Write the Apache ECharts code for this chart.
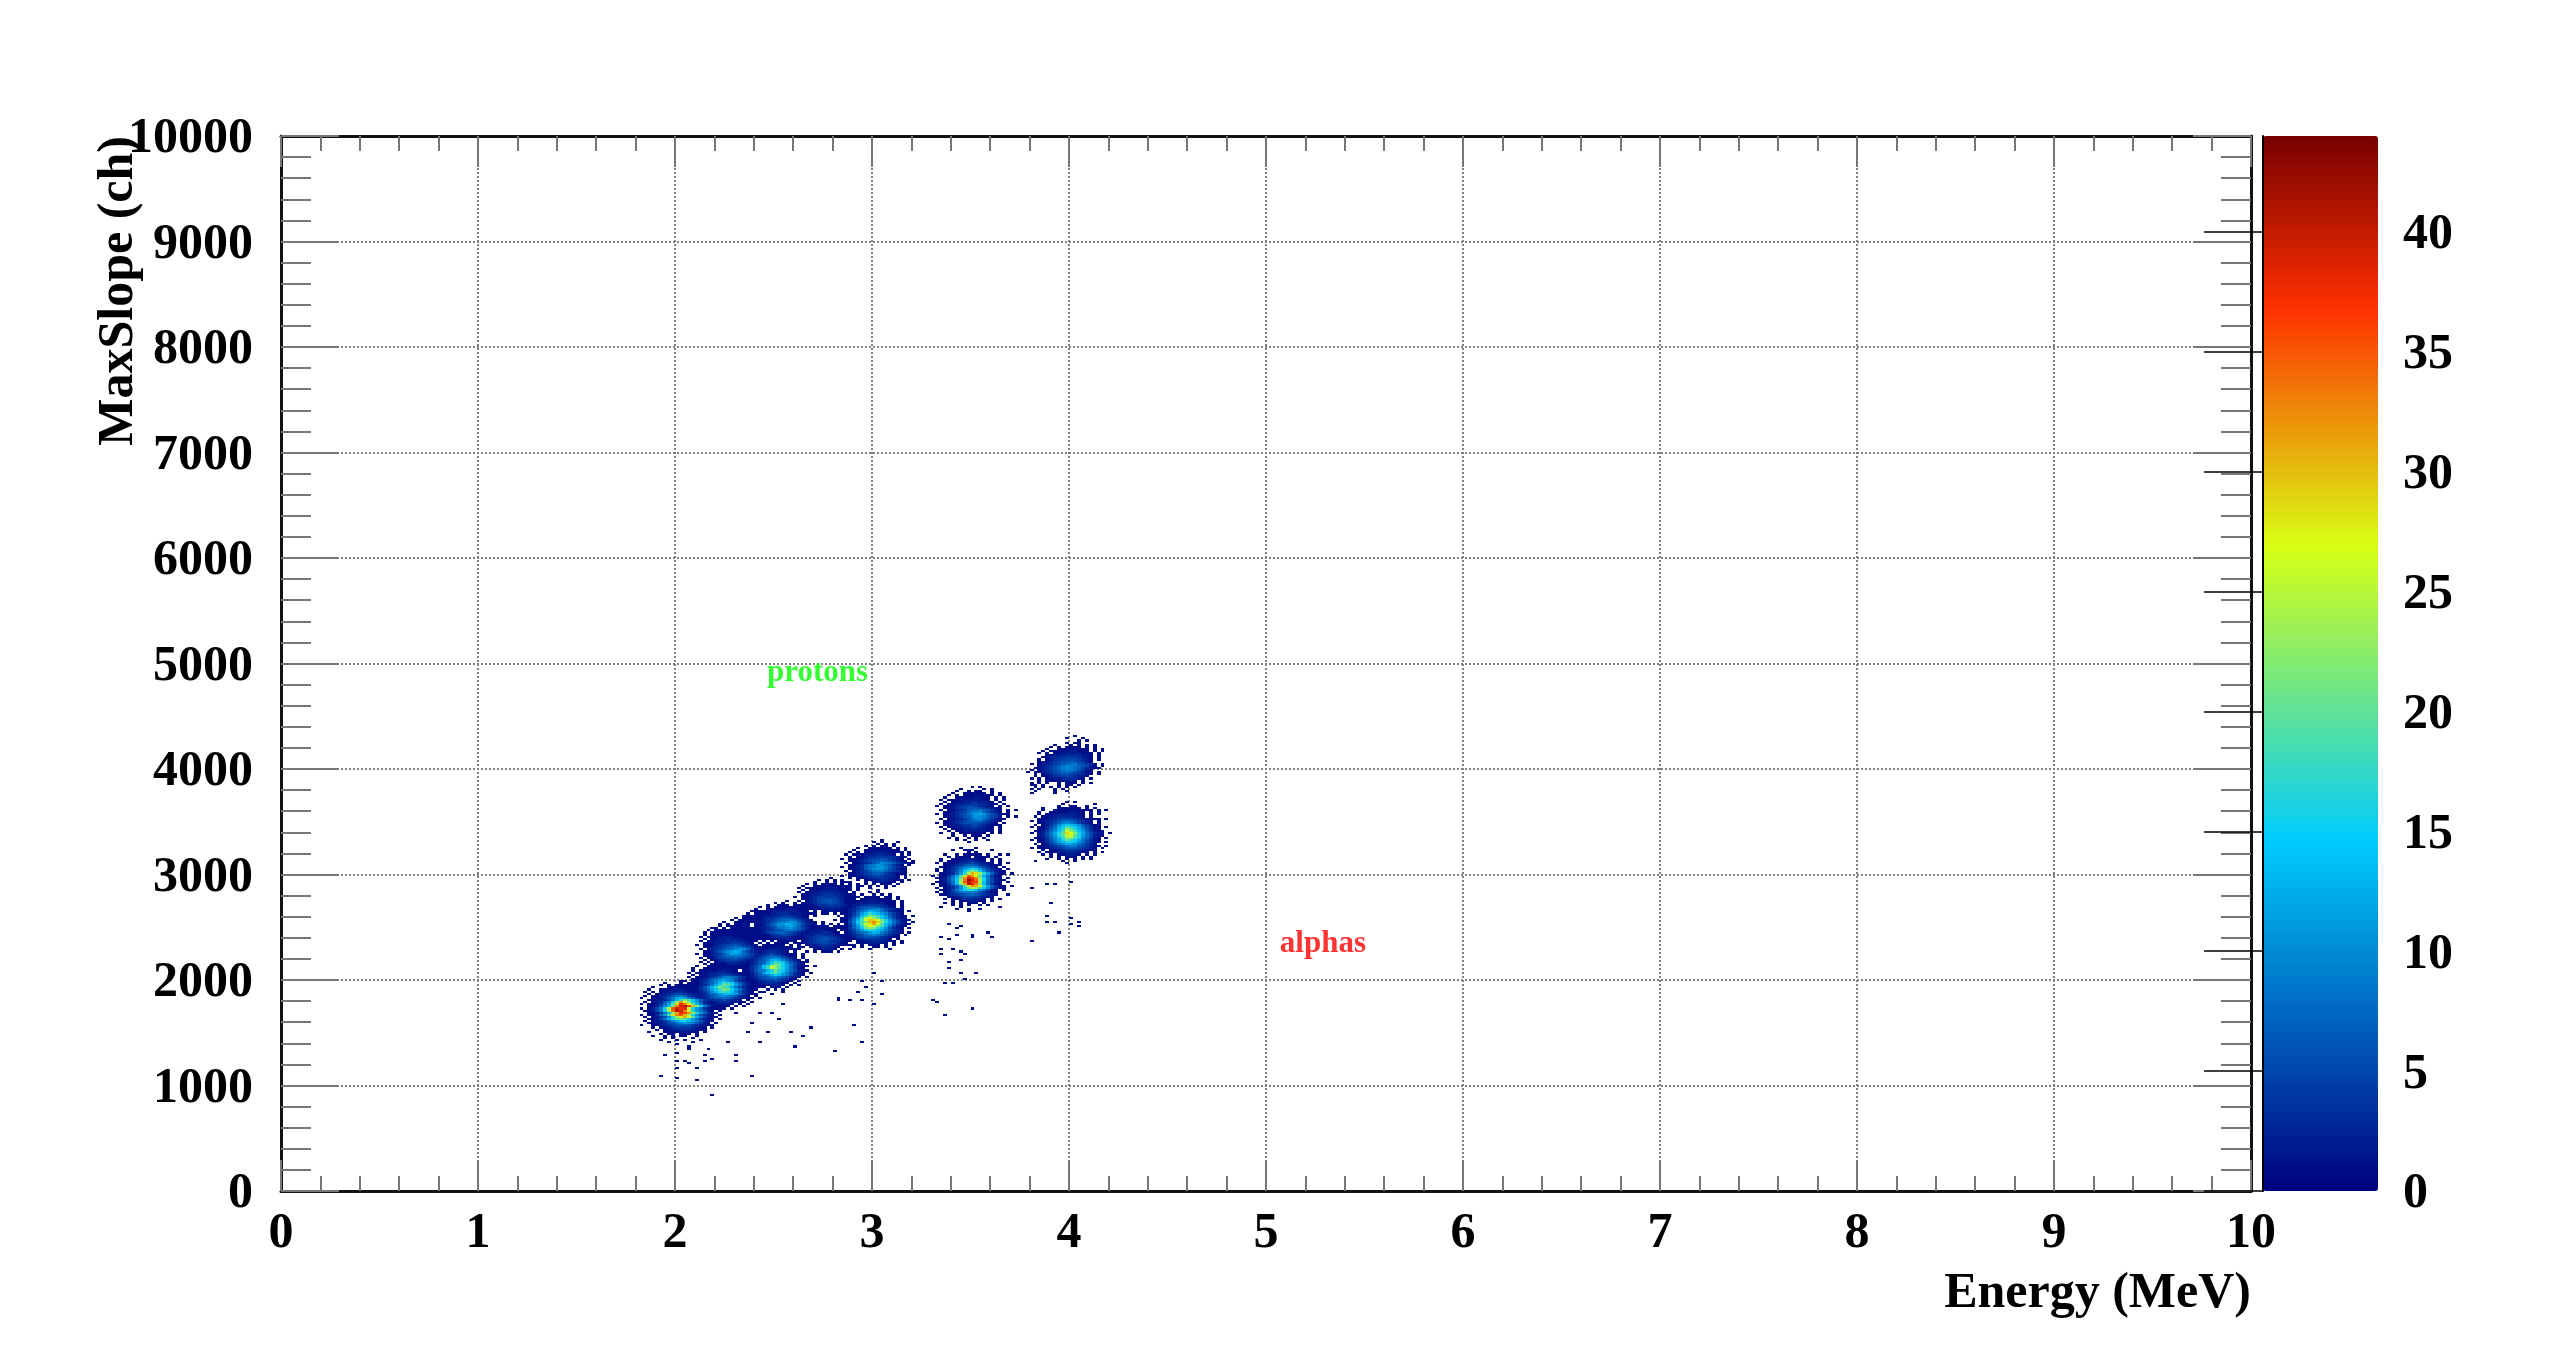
<!DOCTYPE html>
<html><head><meta charset="utf-8">
<style>html,body{margin:0;padding:0;background:#fff}#c{width:2558px;height:1362px}</style>
<script src="https://cdn.jsdelivr.net/npm/echarts@6/dist/echarts.min.js"></script>
</head><body><div id="c"></div>
<script>
// Histogram bin widths: 0.02 MeV, 20 ch
const binE = 0.02, binS = 20;
const xRange = [0, 10], yRange = [0, 10000], zRange = [0, 44];
const zTicks = [0, 5, 10, 15, 20, 25, 30, 35, 40];
// one character per bin: . = empty, 1-9, a=10 ... z=35, A=36 ... G=42; rows run top to bottom
const countChars = '.123456789abcdefghijklmnopqrstuvwxyzABCDEFGH';
const blobA = [
"...........1..1.........",
".......1...1.1..1.......",
"......1.1.11111.1.......",
"....1...1111111.1.1.....",
"...1..111122111.11......",
"..1.1.1122332211.1......",
"...1.12234554322.1.1....",
"..1.1123468974321.1.....",
".1..112469cdb96421.1.1..",
"...1122358dhmjfa74211...",
"..1.12369gnwrlfb6321.1..",
".1.1124 8cjtBxrkd8421...",
"...11259elxDFAumf9521.1.",
".1.1258gozEBCqgb84211...",
"..11259foyFDxshb9521.1..",
"...11248dmvCAwnhb7421...",
".1.1137bjsxzuofa6321.1..",
"..1.1236ahnsvqkc84211...",
"...11258dhkljfb84211.1..",
"..1.12246acfgdb96311....",
"...11223568aba96421.1...",
".1..1123456776432211....",
"....1.112344443211.1....",
".....1.11223322111......",
"...1...111122211.1......",
"......1.11.111.1........",
"....1..1.1.11..1........",
".......1.1....1.........",
"......1...1.1...1.......",
"........1.....1........."];
const blobB = [
"..........1.1...........",
"......1...1..1.1........",
"....1..1.111111.1.......",
"...1..1111111111.1......",
"...1.1111122211.1.......",
"..1.111223332211.1..1...",
"...1.11233455432111.....",
"..1.11123468987431.1....",
"...11234689ba964211.1...",
".1.1123579cdb96321.1....",
"...11246 7aeihfa74211...",
"..1.12358cgkjgb84211....",
"...11369dhmjhc85311.1...",
".1.11358bfilkfb84211....",
"...11246adgihea6321.1...",
"..1.123578bdecb74211....",
"...11234689a986321.1....",
".1..112456787643211.1...",
"...1.11234454321.1......",
".....1.1123332211.1.....",
"...1...1122221.1.1......",
"......1.1.111.1.1.......",
"....1...1.11.1..........",
".......1..1.............",
".........1....1........."];
const blobC = [
"..........1.............",
".......1.1..1.1.........",
"....1.1..11111.1.1......",
"...1.1.111111111.1......",
"...1..11112221111.......",
"..1.11112333221.1.......",
"...1.112345432111.1.....",
"..1.1123467764211.1.....",
"...11234689a97531.1.....",
".1.1123579dec96421.1....",
"...11246 7beigea64211...",
"..1.12368cgljgb8521.....",
"...11358ehpnjfc84211.1..",
"..1.1358eiqmkgc7411.....",
"...113689dglhfb85211....",
".1.11247bfhkgc96321.1...",
"...112468 9cfeb96321....",
"..1.1235679a875321.1....",
"...11124566754311.......",
".....11234454321.1......",
"...1.1122333211.1.......",
".....1.1112221.1.1......",
"....1.1.1.111.1.........",
"......1..1.1.1..........",
"........1....1..........",
"......1...1............."];
const blobD = [
"..........1.1...........",
"......1...1..1..........",
"....1..1.11111.1.1......",
"...1..1111111.11........",
"...1.1111111111.1.......",
"..1.11122221111.1.......",
"...1.1122322211.1.......",
"..1.1122233322111.......",
"...1112233444321.1......",
".1.1112345565432 1.1....",
"...1123456787653 1......",
"..1.12346789ba74211.....",
"...112468abdb75321.1....",
".1.1123469cba86432 1....",
"...11235 6889875421.....",
"..1.113456676543 1......",
"...1.113445543211.......",
"..1.1.12233322 1.1......",
"...1.11112222111........",
".....1.1.11111.1.1......",
"...1...1.1.1.1.1........",
"......1....1............",
"........1.1............."];
const blobE = [
"...........1............",
"........1.1..1.1........",
"......1..111.1.1........",
"....1.1.1111111.1.......",
"...1..1111121111.1......",
"..1.11112222221.1.1.....",
"...1.1122333222111......",
".1.1112233444321 1.1....",
"...1123345665432 1......",
"..1.1234567887532 1.....",
"...112356899ba74211.1...",
".1.112468abdca85321.....",
"...112467a9bca74211.1...",
"..1.1234689ab87531......",
"...11234567898642 1.....",
".1.112456776543 21.1....",
"...1.113445543211.......",
"..1.1.1233332111.1......",
"...1.11112222111........",
".....1.1.11111.1........",
"....1...1.11.1..........",
"........1...1..........."];
const blobF = [
"..........1.1...........",
"........1..1.1.1........",
"......1..1111.11.1......",
"....1.1.11111111.1......",
"...1..11112211111.1.....",
"..1.1112222222111.1.....",
"...1.12233444321 1.1....",
"..1.1124566654321.1.....",
"...1123467 89a85432 1...",
".1.11236 8adca863211.1..",
"...11247beifdb96421.....",
"..1.1258dhmkifb74211.1..",
"...1137bhoqnjeb85211....",
".1.1148djrutqlgb74211...",
"...1159filuxtmgc8521.1..",
"..1.148dkqsvqjeb74211...",
"...1137bhnrpljd85211....",
".1.1147aflnmhea6321.1...",
"...11358bfhgec96421.....",
"..1.124689bdc97532 1.1..",
"...112345789875321.1....",
".1..1124566654321 1.....",
"...1.1123444432 1.1.....",
".....1.1122332211.1.....",
"...1...1112222 1.1.1....",
"....1.1.1.111.1.1.......",
"......1.1..11.1.........",
"..........1....1........"];
const blobG = [
"..........1.............",
".......1.1.1.1..........",
"......1..1.1.11.........",
"....1.1.1111.1.1........",
"...1..1111111111.1......",
"..1.111112221111.1......",
"...1.11122221111.1......",
"..1.11223332211.1.......",
"...11223344332111.......",
".1.11234444432 11.1.....",
"...11234555543 11.......",
"..1.1235566543 11.1.....",
"...11234556543 1........",
"..1.11233454432 1.1.....",
"...1.1123333321 1.......",
"..1.1.1122222111.1......",
"....1.1.11211.1.........",
"......1.11.1.1.........."];
const blobG2 = [
".....1..1.1.1....",
"...1...1.1.11.1..",
"..1..11111111.1..",
"..1.11222111.11..",
".1.1122233211.1..",
"..1122344332111..",
".1.123445543211..",
"..1123455654321.1",
".1.123456543321..",
"..1123445544211..",
"..1.1223443221.1.",
"...1.1223322 1...",
"..1...112221.1.1.",
"....1.1.111.1...."];
// low-count band joining the overlapping proton blobs
const bridgeLow = [
"...............1.1..1.1.....",
"............1.1..1111.1.1...",
"..........1.111.11111.11....",
".........111.111112.11111...",
".......1.111111121.11111....",
"......1.1111111111211.11....",
"....1..111111211111211.1.1..",
"...1.1.1121.1111.111211.....",
"...1.111111.11211.111.1.....",
".1..1.111111121.1111111.....",
"..1.1111.1111111111.1.......",
".1.1.1111111.1111.1.1.1.....",
"..1.1.11111111.1.1.1........",
".1.1.11111.1.111............",
"..1.1.111111.1..............",
"...11.11.1.1................",
"..1.1.1.1...................",
"....1.1....................."];
const blobH = [
"...........1............",
".........1.1...1........",
"..........1.1.1.........",
".......1.1.11.1.........",
".....1..111111.1.1......",
"....1..111111111.1......",
"...1.1.1122221111.1.....",
"..1.11122233221.1.1.....",
"...1.1123344443211......",
".1.1112345565432 1.1....",
"...112345677654211.1....",
"..1.1123468a98643211....",
"...11236 89ba86421.1....",
".1.1124689ab975321......",
"...112378aba964211......",
"..1.1234688975432 1.....",
"...112345676432111......",
".1.11223455433 21.1.....",
"...1.11233443221.1......",
".....1.1122332111.1.....",
"...1...1.122211.1.......",
".....1.1.1.111.1........",
"......1.1.1.1.1.........",
"........1...1...........",
"..........1............."];
const blobI = [
"........1...1.........",
"......1..111....1.....",
"..........1.1.........",
"....1..1.11111.1..1.1.",
".....1.1111.1111.1....",
"...1..111222211.1.1...",
"...1.1112233211.1.1...",
"..1.1112344543211.1.1.",
"....112346776432111...",
"...11235799a975321.1..",
"..1.12358behfb85321.1.",
"..1.12 46afjmkfa64211..",
"...11237bhovsnhb7311.1",
".1.1148cjszvqkc8411...",
"..11259elwDBxmf9521.1.",
"...1259fnyGDzog95211..",
"..11258eozEBAoe8521.1.",
".1.1148dmvFCxld8411...",
"...11247bjsxvrib7411.1",
"..1.1236aglpnjfa6311..",
"...11258cfhgea8521.1..",
"..1.1246899a864211....",
"...112345677654321..1.",
".....11234554321 1....",
"....1.112333221.1.1...",
"......1.1122211.1.....",
"....1.1.1.111.1.......",
"......1.1.1..1.1......",
"...1....1.........1...",
".......1..1..1........",
"..........1..........."];
const blobJ = [
"..........1.1...........",
".......1.....1.1........",
"......1..1.11..1........",
".....1..111111.1.1......",
"....1.1.11111111.1......",
"...1..111112111.1.1.....",
"..1.11122222211.1.1.....",
"...1.11122332221.1......",
"..1.1122334433211.1.....",
".1.11224455432 21.1.1...",
"...112345666543211......",
"..1.11234678876421.1.1..",
"...112345799a75321.1....",
".1.1123568abcb864211....",
"...11234679ba97542.1.1..",
"..1.11234689a864211.....",
"...112345678864321......",
".1.1123456665432 1.1....",
"...112234455432111......",
"..1.11223344321 1.1.....",
"...1.1122233221 1.1.....",
"....1.1122222211.1......",
"..1..1.1111111.1.1......",
".....1..1.111.1.........",
"....1.1..1.1.1..........",
"......1.1..1..1.........",
".........1.............."];
const blobK = [
"..........1.1.........",
".........1.......1....",
"........1..11..1......",
"....1...111111.1.1....",
"....1..1111111111.1.1.",
"...1..111112211.1.1...",
"...1.1112222211.1.1...",
"..1.11223333221.1.....",
"...1112345554321111.1.",
".1.11234678764321.1...",
"...112357 9a975321.1..",
"..1.1246acfeca64211...",
".1.11358cfjhfc85311.1.",
"...11369dgnkgd96311...",
"..11247aeiqnjeb74211..",
".1.1258cgktrmgc85321.1",
"...1258bgjpqkgb85211..",
"..11247adhmnifa7421.1.",
".1.11369cgkhfc86311...",
"...11358bdfgeb85321.1.",
"..1.12468acba86421....",
"...1123456899654211.1.",
".1.111234567654321.1..",
"....1.112344433211....",
"...1.111223322 11.1.1.",
"....1.1.11222 1.1.1...",
"......1.1.111.1.1.....",
".....1..1.1.1.1.1.....",
"..1......1..1.........",
"..........1..........."];
const blobL = [
"............1.........",
"..........1...1.......",
".............1.1......",
"..........1.11........",
".......1...1.1.1.1....",
"......1.1.1111.1.1....",
".....1..11111111.1.1..",
"....1.1111122111.1.1..",
"...1.1.1122222111.1...",
".....112223333221.1...",
"....112334444322 1.1..",
"...1.1234455543 21.1..",
"...1123456676542 1....",
".1.11234567896543 1.1.",
"...1234578a9876521.1..",
"..11234679a98753211...",
".1.1234578998642 1....",
"1.112345678754311.1...",
"..1.1234566544321.1...",
"..1.1123445432 21.....",
".1.1.112233332 1.1....",
"...1.11122221.1.......",
".1.1.1..1.111.1.1.....",
".11.1...1.11.1........",
"..1.1.1.1.1.1.........",
".1.1...1.1............",
"..1....1..1...........",
".1.....1.............."];
// [first column bin, top row bin] of each block, in the histogram's own bin numbers
const blobList = [bridgeLow, blobG, blobG2, blobD, blobE, blobH, blobL, blobJ, blobB, blobC, blobF, blobK, blobA, blobI];
const blobOrigins = [[108,133],[129,148],[129,126],[104,125],[117,137],[141,166],[189,215],[165,191],[101,108],[114,118],[139,141],[189,184],[90,99],[164,162]];
// isolated single-count bins [column, row]
const strayBins = [[109,45],[96,54],[100,53],[105,52],[119,54],[100,58],[105,58],[100,61],[102,61],[103,60],[107,61],[109,62],[115,61],[97,64],[100,65],[107,64],[115,64],[103,67],[108,67],[100,69],[103,68],[104,70],[113,70],[121,70],[130,68],[140,66],[147,70],[132,73],[129,75],[123,75],[118,75],[119,79],[134,77],[145,78],[126,81],[124,84],[121,84],[127,88],[150,88],[141,90],[141,91],[144,90],[147,90],[152,93],[148,96],[146,94],[150,103],[152,99],[147,99],[165,90],[166,89],[168,83],[175,86],[168,98],[170,98],[173,100],[176,103],[172,103],[169,105],[172,109],[169,108],[167,112],[173,112],[170,114],[172,113],[167,114],[190,118],[190,143],[167,120],[169,119],[180,120],[175,121],[175,120],[179,122],[171,121],[171,124],[172,125],[169,126],[194,145],[196,145],[200,146],[195,136],[194,130],[196,127],[194,127],[200,129],[202,127],[200,126],[202,125],[197,122]];
const textMarks = [["protons", 2.467, 4910, "#00ff00"], ["alphas", 5.07, 2340, "#ff0000"]];
const xTitle = "Energy (MeV)", yTitle = "MaxSlope (ch)";

const cells = new Map();
function put(col, row, n) {
  const k = col + ',' + row;
  cells.set(k, Math.max(cells.get(k) || 0, n));
}
blobList.forEach((rows, b) => {
  const [c0, r0] = blobOrigins[b];
  rows.forEach((line, j) => {
    [...line.replace(/ /g, '')].forEach((ch, i) => {
      const n = countChars.indexOf(ch);
      if (n > 0) put(c0 + i, r0 - j, n);
    });
  });
});
strayBins.forEach(([c, r]) => put(c, r, 1));
const histData = [];
cells.forEach((n, k) => {
  const [c, r] = k.split(',').map(Number);
  histData.push([c * binE, r * binS, n]);
});

// Palette anchors
const anchors = [[0,[0,0,128]],[.332,[0,204,255]],[.611,[216,255,20]],[.837,[255,48,0]],[1,[120,0,0]]];
const ramp = [];
for (let i = 0; i <= 200; i++) {
  const t = i / 200;
  let a = 0;
  while (a < anchors.length - 2 && t > anchors[a + 1][0]) a++;
  const [p, c1] = anchors[a], [q, c2] = anchors[a + 1];
  const f = (t - p) / (q - p);
  ramp.push('rgb(' + c1.map((v, m) => Math.round(v + (c2[m] - v) * f)).join(',') + ')');
}

const serif = '"Liberation Serif","Times New Roman",serif';
const labelStyle = { fontFamily: serif, fontWeight: 'bold', fontSize: 50, color: '#000' };
const frame = { show: true, onZero: false, lineStyle: { color: '#111', width: 3 } };
const grey = { color: '#777', width: 2 };
const gridDots = { show: true, lineStyle: { color: '#808080', width: 2, type: [2, 2] } };
const plain = v => String(v);
// digits sit a little below the tick in the reference
const lowered = { formatter: v => '{d|' + v + '}', rich: { d: { ...labelStyle, padding: [7, 0, 0, 0] } } };

const chart = echarts.init(document.getElementById('c'), null, { renderer: 'canvas' });
chart.setOption({
  animation: false,
  backgroundColor: '#fff',
  grid: [
    { left: 281, top: 136, width: 1970, height: 1055 },
    { left: 2263, top: 136, width: 115, height: 1055 }
  ],
  xAxis: [
    { type: 'value', gridIndex: 0, position: 'bottom', min: xRange[0], max: xRange[1], interval: 1,
      axisLine: frame, axisTick: { show: true, inside: true, length: 31, lineStyle: grey },
      minorTick: { show: true, splitNumber: 5, length: 15, lineStyle: grey },
      splitLine: gridDots, minorSplitLine: { show: false },
      axisLabel: { ...labelStyle, margin: 18, showMinLabel: true, showMaxLabel: true, hideOverlap: false, formatter: plain },
      name: xTitle, nameLocation: 'end', nameGap: 0, nameMoveOverlap: false,
      nameTextStyle: { fontFamily: serif, fontWeight: 'bold', fontSize: 50, color: '#000', align: 'right', verticalAlign: 'top', padding: [78, 0, 0, 0] } },
    { type: 'value', gridIndex: 0, position: 'top', min: xRange[0], max: xRange[1], interval: 1,
      axisLine: frame, axisTick: { show: true, inside: true, length: 31, lineStyle: grey },
      minorTick: { show: true, splitNumber: 5, length: 15, lineStyle: grey },
      splitLine: { show: false }, axisLabel: { show: false } },
    { type: 'value', gridIndex: 1, min: 0, max: 1, show: false }
  ],
  yAxis: [
    { type: 'value', gridIndex: 0, position: 'left', min: yRange[0], max: yRange[1], interval: 1000,
      axisLine: frame, axisTick: { show: true, inside: true, length: 58, lineStyle: grey },
      minorTick: { show: true, splitNumber: 5, length: 30, lineStyle: grey },
      splitLine: gridDots,
      axisLabel: { margin: 28, showMinLabel: true, showMaxLabel: true, hideOverlap: false, ...lowered },
      name: yTitle, nameLocation: 'end', nameRotate: 90, nameGap: 0, nameMoveOverlap: false,
      nameTextStyle: { fontFamily: serif, fontWeight: 'bold', fontSize: 50, color: '#000', align: 'right', verticalAlign: 'bottom', padding: [0, 0, 137, 0] } },
    { type: 'value', gridIndex: 0, position: 'right', min: yRange[0], max: yRange[1], interval: 1000,
      axisLine: frame, axisTick: { show: true, inside: true, length: 58, lineStyle: grey },
      minorTick: { show: true, splitNumber: 5, length: 30, lineStyle: grey },
      splitLine: { show: false }, axisLabel: { show: false } },
    { type: 'value', gridIndex: 1, position: 'right', min: zRange[0], max: zRange[1], z: 20,
      axisLine: { show: true, lineStyle: { color: '#000', width: 2 } },
      axisTick: { show: true, inside: true, length: 59, customValues: zTicks, lineStyle: { color: 'rgba(0,0,0,0.75)', width: 2 } },
      splitLine: { show: false },
      axisLabel: { margin: 25, customValues: zTicks, showMinLabel: true, hideOverlap: false, ...lowered } }
  ],
  visualMap: {
    type: 'continuous', seriesIndex: 0, dimension: 2, min: zRange[0], max: zRange[1],
    inRange: { color: ramp }, calculable: false, realtime: false, hoverLink: false,
    left: 2263, top: 136, padding: 0, itemWidth: 115, itemHeight: 1055, text: null,
    textStyle: { fontSize: 0, color: 'rgba(0,0,0,0)' }, showLabel: false, z: 1
  },
  series: [
    { type: 'custom', xAxisIndex: 0, yAxisIndex: 0, data: histData, silent: true, progressive: 0,
      encode: { x: 0, y: 1 }, z: 2,
      renderItem(params, api) {
        const a = api.coord([api.value(0), api.value(1) + binS]);
        const b = api.coord([api.value(0) + binE, api.value(1)]);
        const x0 = Math.round(a[0]), y0 = Math.round(a[1]);
        return { type: 'rect', shape: { x: x0, y: y0, width: Math.round(b[0]) - x0, height: Math.round(b[1]) - y0 },
          style: { fill: api.visual('color') } };
      } },
    { type: 'scatter', xAxisIndex: 0, yAxisIndex: 0, symbolSize: 0, silent: true, z: 5,
      data: textMarks.map(m => ({ value: [m[1], m[2]],
        label: { show: true, position: 'right', distance: 0, formatter: m[0], color: m[3],
          fontFamily: serif, fontWeight: 'bold', fontSize: 31 } })) }
  ]
});
</script></body></html>
